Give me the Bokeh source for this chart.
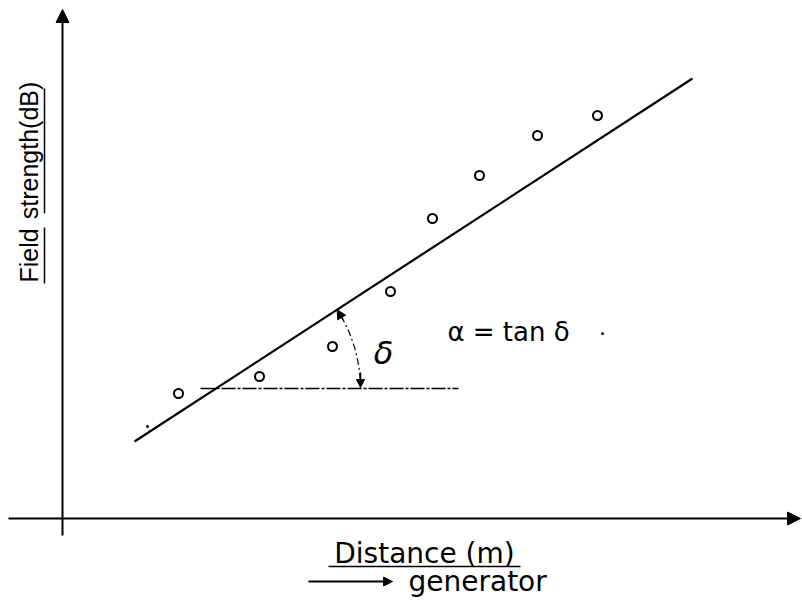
import math
from bokeh.plotting import figure
from bokeh.models import Range1d, Arrow, NormalHead, Label
from bokeh.embed import file_html
from bokeh.resources import INLINE

# measured field strength along the line (arbitrary linear units)
distance = [116, 197, 270, 328, 370, 417, 475, 535]
field_strength = [125, 142, 172, 227, 300, 343, 383, 403]

# fitted straight line, alpha = tan(delta)
fit_distance = [72, 630]
fit_field = [77, 440]

# horizontal reference level used to mark the angle delta
ref_level = 130
ref_distance = [138, 396]

FONT = "DejaVu Sans"
INK = "black"

p = figure(width=802, height=605,
           x_range=Range1d(-62, 740), y_range=Range1d(-87, 518),
           x_axis_type=None, y_axis_type=None,
           toolbar_location=None, output_backend="svg",
           min_border=0, min_border_left=0, min_border_right=0,
           min_border_top=0, min_border_bottom=0)
p.grid.visible = False
p.outline_line_color = None
p.background_fill_color = "white"
p.border_fill_color = "white"


def head(size):
    return NormalHead(size=size, fill_color=INK, line_color=INK)


# axes drawn as arrows through the origin
p.add_layout(Arrow(x_start=-54, y_start=0, x_end=738, y_end=0,
                   line_width=2, line_color=INK, end=head(13)))
p.add_layout(Arrow(x_start=0, y_start=-17, x_end=0, y_end=509,
                   line_width=2, line_color=INK, end=head(13)))

# fitted line
p.line(fit_distance, fit_field, line_color=INK, line_width=2.2)

# measured points
p.scatter(distance, field_strength, marker="circle", size=9,
          fill_color=None, line_color=INK, line_width=2)
p.scatter([85], [92], marker="circle", size=3, fill_color=INK, line_color=None)

# reference level (dash-dot)
p.line(ref_distance, [ref_level, ref_level], line_color=INK,
       line_width=1.6, line_dash="14 2 3 2")

# angle arc between reference level and fitted line
slope = (fit_field[1] - fit_field[0]) / (fit_distance[1] - fit_distance[0])
cx = fit_distance[0] + (ref_level - fit_field[0]) / slope
cy = ref_level
r = 144.5
theta = math.atan(slope)
p.arc(x=[cx], y=[cy], radius=r, start_angle=0.06, end_angle=theta - 0.05,
      line_color=INK, line_width=1.2, line_dash="7 3 2 3")
p.add_layout(Arrow(x_start=cx + r * math.cos(theta - 0.08), y_start=cy + r * math.sin(theta - 0.08),
                   x_end=cx + r * math.cos(theta), y_end=cy + r * math.sin(theta),
                   line_width=1.5, line_color=INK, end=head(9)))
p.add_layout(Arrow(x_start=cx + r, y_start=cy + 16, x_end=cx + r, y_end=cy + 1,
                   line_width=1.5, line_color=INK, end=head(8)))

# annotations
p.add_layout(Label(x=321, y=166, text="δ", text_font=FONT, text_font_size="32px",
                   text_font_style="italic", text_color=INK,
                   text_align="center", text_baseline="middle"))
p.add_layout(Label(x=446, y=187, text="α = tan δ", text_font=FONT, text_font_size="26px",
                   text_color=INK, text_align="center", text_baseline="middle"))
p.add_layout(Label(x=540, y=192, text=".", text_font=FONT, text_font_size="22px",
                   text_color=INK, text_align="center", text_baseline="middle"))

# vertical axis title, each word underlined
p.add_layout(Label(x=-34, y=263, text="Field", text_font="Liberation Sans",
                   text_font_size="25px", angle=math.pi / 2, text_color=INK,
                   text_align="center", text_baseline="middle"))
p.add_layout(Label(x=-34, y=368, text="strength(dB)", text_font="Liberation Sans",
                   text_font_size="25px", angle=math.pi / 2, text_color=INK,
                   text_align="center", text_baseline="middle"))
p.segment(x0=[-18, -18], y0=[235, 305], x1=[-18, -18], y1=[291, 430],
          line_color=INK, line_width=1.5)

# horizontal axis title and direction of the generator
p.add_layout(Label(x=362, y=-35, text="Distance (m)", text_font=FONT,
                   text_font_size="28px", text_color=INK,
                   text_align="center", text_baseline="middle"))
p.segment(x0=[266], y0=[-48], x1=[458], y1=[-48], line_color=INK, line_width=1.5)

p.add_layout(Arrow(x_start=246, y_start=-63, x_end=330, y_end=-63,
                   line_width=1.8, line_color=INK, end=head(9)))
p.add_layout(Label(x=346, y=-63, text="generator", text_font=FONT,
                   text_font_size="28px", text_color=INK,
                   text_align="left", text_baseline="middle"))

open("out.html", "w").write(file_html(p, INLINE))
